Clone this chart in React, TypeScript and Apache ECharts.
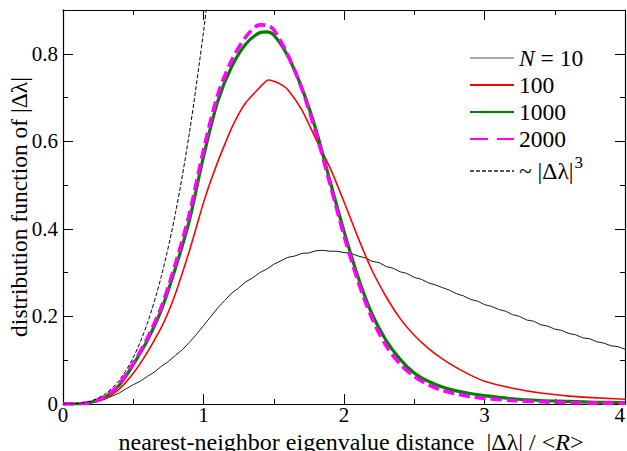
import React, { useEffect, useRef } from "react";
import * as echarts from "echarts";

const xTicks = ["0", "1", "2", "3", "4"];

// N = 10 (black, thin)
const n10: [number, number][] = [
  [0, 0], [0.05, 0], [0.1, 0.001], [0.15, 0.002], [0.2, 0.004], [0.25, 0.007], [0.3, 0.012],
  [0.35, 0.018], [0.4, 0.025], [0.45, 0.035], [0.5, 0.044], [0.55, 0.052], [0.6, 0.063],
  [0.65, 0.073], [0.7, 0.086], [0.75, 0.097], [0.8, 0.111], [0.85, 0.124], [0.9, 0.141],
  [0.95, 0.159], [1.0, 0.179], [1.05, 0.199], [1.1, 0.219], [1.15, 0.236], [1.2, 0.253],
  [1.25, 0.265], [1.3, 0.279], [1.35, 0.288], [1.4, 0.3], [1.45, 0.308], [1.5, 0.319],
  [1.55, 0.327], [1.6, 0.335], [1.65, 0.338], [1.7, 0.344], [1.75, 0.345], [1.8, 0.35],
  [1.85, 0.351], [1.9, 0.349], [1.95, 0.349], [2.0, 0.346], [2.05, 0.344], [2.1, 0.338],
  [2.15, 0.334], [2.2, 0.326], [2.25, 0.323], [2.3, 0.314], [2.35, 0.31], [2.4, 0.302],
  [2.45, 0.298], [2.5, 0.289], [2.55, 0.285], [2.6, 0.277], [2.65, 0.272], [2.7, 0.266],
  [2.75, 0.26], [2.8, 0.252], [2.85, 0.247], [2.9, 0.239], [2.95, 0.235], [3.0, 0.227],
  [3.05, 0.223], [3.1, 0.216], [3.15, 0.212], [3.2, 0.204], [3.25, 0.2], [3.3, 0.192],
  [3.35, 0.189], [3.4, 0.181], [3.45, 0.178], [3.5, 0.171], [3.55, 0.168], [3.6, 0.161],
  [3.65, 0.158], [3.7, 0.151], [3.75, 0.149], [3.8, 0.142], [3.85, 0.139], [3.9, 0.133],
  [3.95, 0.131], [4.0, 0.125],
];

// N = 100 (red)
const n100: [number, number][] = [
  [0, 0], [0.1, 0.0005], [0.2, 0.003], [0.3, 0.012], [0.4, 0.034], [0.5, 0.07], [0.6, 0.118],
  [0.7, 0.175], [0.75, 0.21], [0.8, 0.252], [0.85, 0.3], [0.9, 0.35], [0.95, 0.405],
  [1.0, 0.46], [1.05, 0.508], [1.1, 0.552], [1.15, 0.592], [1.2, 0.63], [1.25, 0.662],
  [1.3, 0.688], [1.35, 0.706], [1.4, 0.723], [1.46, 0.74], [1.5, 0.737], [1.55, 0.73],
  [1.6, 0.718], [1.7, 0.672], [1.8, 0.605], [1.9, 0.54], [2.0, 0.462], [2.1, 0.38],
  [2.2, 0.305], [2.3, 0.245], [2.4, 0.195], [2.5, 0.157], [2.6, 0.127], [2.7, 0.103],
  [2.8, 0.083], [2.9, 0.066], [3.0, 0.052], [3.2, 0.036], [3.4, 0.025], [3.6, 0.018],
  [3.8, 0.014], [4.0, 0.011],
];

// N = 1000 (green, thick)
const n1000: [number, number][] = [
  [0, 0], [0.1, 0.0005], [0.2, 0.004], [0.3, 0.016], [0.4, 0.043], [0.5, 0.09], [0.6, 0.145],
  [0.7, 0.215], [0.8, 0.31], [0.9, 0.42], [1.0, 0.565], [1.1, 0.69], [1.2, 0.77],
  [1.3, 0.822], [1.4, 0.848], [1.45, 0.85], [1.5, 0.843], [1.6, 0.795], [1.7, 0.722],
  [1.8, 0.627], [1.9, 0.51], [2.0, 0.395], [2.1, 0.29], [2.2, 0.205], [2.3, 0.145],
  [2.4, 0.102], [2.5, 0.071], [2.6, 0.052], [2.7, 0.039], [2.8, 0.03], [2.9, 0.024],
  [3.0, 0.019], [3.2, 0.012], [3.4, 0.008], [3.6, 0.006], [3.8, 0.004], [4.0, 0.003],
];

// N = 2000 (magenta, dashed)
const n2000: [number, number][] = [
  [0, 0], [0.1, 0.0005], [0.2, 0.004], [0.3, 0.017], [0.4, 0.045], [0.5, 0.093], [0.6, 0.15],
  [0.7, 0.222], [0.8, 0.32], [0.9, 0.435], [1.0, 0.58], [1.1, 0.705], [1.2, 0.785],
  [1.3, 0.838], [1.4, 0.866], [1.45, 0.865], [1.5, 0.855], [1.6, 0.797], [1.7, 0.72],
  [1.8, 0.62], [1.9, 0.503], [2.0, 0.385], [2.1, 0.28], [2.2, 0.195], [2.3, 0.133],
  [2.4, 0.091], [2.5, 0.063], [2.6, 0.044], [2.7, 0.031], [2.8, 0.023], [2.9, 0.017],
  [3.0, 0.013], [3.2, 0.008], [3.4, 0.005], [3.6, 0.003], [3.8, 0.002], [4.0, 0.002],
];

// ~ |Δλ|^3 guide (dashed black)
const cubic: [number, number][] = [
  [0, 0], [0.1, 0.001], [0.2, 0.007], [0.3, 0.023], [0.4, 0.054], [0.5, 0.106], [0.6, 0.184],
  [0.7, 0.292], [0.8, 0.435], [0.9, 0.62], [1.0, 0.85], [1.05, 0.984],
];

const FONT = "Liberation Serif";

export default function App() {
  const ref = useRef<HTMLDivElement>(null);
  useEffect(() => {
    if (!ref.current) return;
    const chart = echarts.init(ref.current, undefined, { renderer: "svg" });
    const tickCommon = {
      axisLine: { show: true, onZero: false, lineStyle: { color: "#000", width: 1.2 } },
      axisTick: { show: true, inside: true, length: 10, lineStyle: { color: "#000", width: 1 } },
      minorTick: { show: true, splitNumber: 2, length: 5, lineStyle: { color: "#000", width: 1 } },
      splitLine: { show: false },
      minorSplitLine: { show: false },
    };
    const legendNames: Record<string, string> = {
      N10: "{i|N} = 10",
      N100: "100",
      N1000: "1000",
      N2000: "2000",
      cubic: "~ |Δλ|{sup|3}",
    };
    chart.setOption({
      animation: false,
      backgroundColor: "#fff",
      textStyle: { fontFamily: FONT },
      grid: { left: 63, right: 2, top: 10, bottom: 47, containLabel: false, outerBoundsMode: "none" },
      xAxis: [
        {
          type: "value",
          min: 0,
          max: 4,
          interval: 1,
          position: "bottom",
          ...tickCommon,
          axisLabel: {
            color: "#000",
            fontFamily: FONT,
            fontSize: 21,
            lineHeight: 16,
            margin: 3,
            alignMaxLabel: "right",
            formatter: (v: number) => xTicks[Math.round(v)] ?? String(v),
          },
          name: "nearest-neighbor eigenvalue distance  |Δλ| / <{i|R}>",
          nameLocation: "middle",
          nameGap: 27,
          nameMoveOverlap: false,
          nameTextStyle: {
            color: "#000",
            fontFamily: FONT,
            fontSize: 24,
            lineHeight: 22,
            padding: [0, 0, 0, 14],
            rich: { i: { fontStyle: "italic", fontFamily: FONT, fontSize: 24, lineHeight: 22, color: "#000" } },
          },
        },
        {
          type: "value",
          min: 0,
          max: 4,
          interval: 1,
          position: "top",
          ...tickCommon,
          axisLabel: { show: false },
        },
      ],
      yAxis: [
        {
          type: "value",
          min: 0,
          max: 0.9,
          interval: 0.2,
          position: "left",
          ...tickCommon,
          axisLabel: {
            color: "#000",
            fontFamily: FONT,
            fontSize: 21,
            margin: 5,
            showMaxLabel: false,
            formatter: (v: number) => (v === 0 ? "0" : v.toFixed(1)),
          },
          name: "distribution function of |Δλ|",
          nameLocation: "middle",
          nameGap: 32,
          nameMoveOverlap: false,
          nameTextStyle: { color: "#000", fontFamily: FONT, fontSize: 23.5 },
        },
        {
          type: "value",
          min: 0,
          max: 0.9,
          interval: 0.2,
          position: "right",
          ...tickCommon,
          axisLabel: { show: false },
        },
      ],
      legend: {
        show: true,
        orient: "vertical",
        left: 464,
        top: 41,
        itemWidth: 44,
        itemHeight: 14,
        itemGap: 3,
        itemStyle: { opacity: 0, color: "transparent", borderWidth: 0 },
        textStyle: {
          color: "#000",
          fontFamily: FONT,
          fontSize: 23.5,
          lineHeight: 24,
          rich: {
            i: { fontStyle: "italic", fontFamily: FONT, fontSize: 23.5, lineHeight: 24, color: "#000" },
            sup: { fontFamily: FONT, fontSize: 17, lineHeight: 17, color: "#000", padding: [0, 0, 17, 1] },
          },
        },
        formatter: (name: string) => legendNames[name] ?? name,
        data: [
          { name: "N10", lineStyle: { color: "#555", width: 1 } },
          { name: "N100" },
          { name: "N1000" },
          { name: "N2000", lineStyle: { type: [18, 9], dashOffset: 0 } },
          { name: "cubic", lineStyle: { color: "#555", type: [4, 2] } },
        ],
      },
      series: [
        {
          name: "N10",
          type: "line",
          data: n10,
          symbol: "none",
          showSymbol: false,
          clip: true,
          lineStyle: { color: "#000", width: 0.9 },
          itemStyle: { color: "#000" },
          z: 2,
        },
        {
          name: "N100",
          type: "line",
          data: n100,
          symbol: "none",
          showSymbol: false,
          clip: true,
          smooth: 0.2,
          lineStyle: { color: "#ff0000", width: 1.6 },
          itemStyle: { color: "#ff0000" },
          z: 3,
        },
        {
          name: "N1000",
          type: "line",
          data: n1000,
          symbol: "none",
          showSymbol: false,
          clip: true,
          smooth: 0.3,
          lineStyle: { color: "#008000", width: 3.2 },
          itemStyle: { color: "#008000" },
          z: 4,
        },
        {
          name: "N2000",
          type: "line",
          data: n2000,
          symbol: "none",
          showSymbol: false,
          clip: true,
          smooth: 0.3,
          lineStyle: { color: "#ff00ff", width: 3.6, type: [11, 5] },
          itemStyle: { color: "#ff00ff" },
          z: 5,
        },
        {
          name: "cubic",
          type: "line",
          data: cubic,
          symbol: "none",
          showSymbol: false,
          clip: true,
          smooth: 0.3,
          lineStyle: { color: "#000", width: 1, type: [4, 2] },
          itemStyle: { color: "#000" },
          z: 6,
        },
      ],
    });
    return () => chart.dispose();
  }, []);
  return (
    <div
      ref={ref}
      style={{ position: "fixed", left: 0, top: 0, width: 627, height: 451, background: "#fff" }}
    />
  );
}
